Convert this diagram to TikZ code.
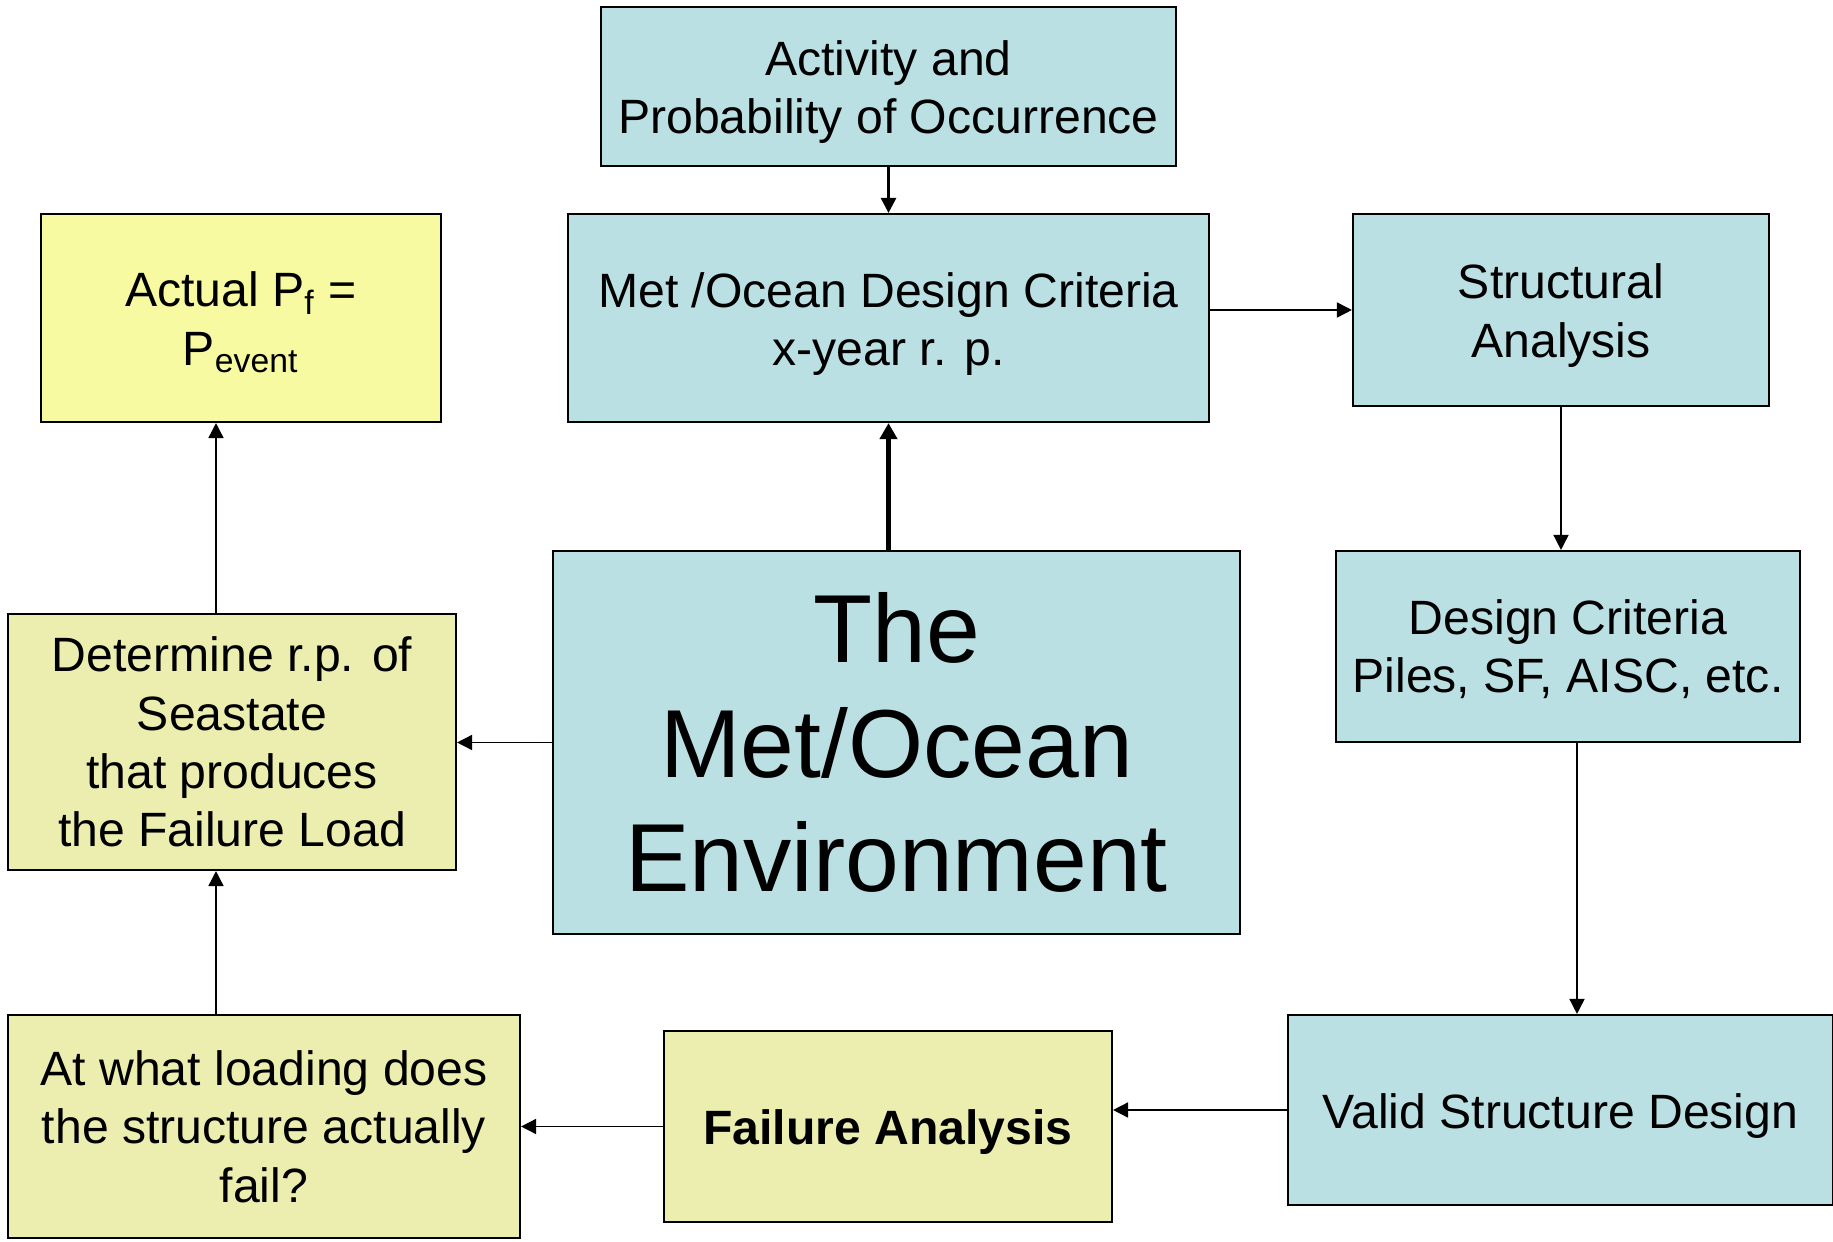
\documentclass[tikz,border=0pt]{standalone}
\usepackage{fontspec}
\setmainfont{Liberation Sans}
\usetikzlibrary{arrows.meta}
\definecolor{boxblue}{RGB}{187,224,227}
\definecolor{boxlemon}{RGB}{247,250,160}
\definecolor{boxsand}{RGB}{236,238,176}
\newcommand{\topstrut}[1][13.2pt]{\rule{0pt}{#1}}
\begin{document}
\begin{tikzpicture}[>={Triangle[length=1.5mm,width=1.5mm]},
	box/.style={draw,line width=0.6pt,align=center,inner sep=0pt,
		font=\fontsize{13.7}{16.6}\selectfont},
	blue/.style={box,fill=boxblue},
	lemon/.style={box,fill=boxlemon},
	sand/.style={box,fill=boxsand},
	link/.style={->,line width=0.45pt}]
	\useasboundingbox (0,0) rectangle (18.33,-12.42);
	\node[blue,minimum width=5.75cm,minimum height=1.59cm] (activity) at (8.885,-0.865) {\topstrut Activity and\\Probability of Occurrence};
	\node[blue,minimum width=6.41cm,minimum height=2.08cm] (criteria) at (8.885,-3.18) {\topstrut Met /Ocean Design Criteria\\x-year r. p.};
	\node[blue,minimum width=4.16cm,minimum height=1.92cm] (structural) at (15.61,-3.10) {\topstrut[13pt]Structural\\Analysis};
	\node[lemon,minimum width=4.00cm,minimum height=2.08cm] (actual) at (2.41,-3.18) {\topstrut[12.5pt]Actual P\textsubscript{f} =\\P\textsubscript{event}};
	\node[sand,minimum width=4.48cm,minimum height=2.56cm] (determine) at (2.32,-7.42) {Determine r.p. of\\Seastate\\that produces\\the Failure Load};
	\node[blue,minimum width=6.87cm,minimum height=3.83cm,font=\fontsize{27.5}{32.6}\selectfont] (environment) at (8.965,-7.425) {The\\Met/Ocean\\Environment};
	\node[blue,minimum width=4.64cm,minimum height=1.91cm] (design) at (15.68,-6.465) {\topstrut[11.5pt]Design Criteria\\Piles, SF, AISC, etc.};
	\node[blue,minimum width=5.45cm,minimum height=1.90cm] (valid) at (15.605,-11.10) {\topstrut Valid Structure Design};
	\node[sand,minimum width=4.48cm,minimum height=1.91cm,font=\fontsize{13.7}{16.6}\selectfont\bfseries] (failure) at (8.88,-11.265) {\topstrut Failure Analysis};
	\node[sand,minimum width=5.12cm,minimum height=2.23cm] (loading) at (2.64,-11.265) {At what loading does\\the structure actually\\fail?};

	\coordinate (dcout) at ([xshift=0.9mm]design.south);
	\coordinate (leftup) at ([xshift=-1.6mm]determine.north);
	\coordinate (leftdown) at ([xshift=-1.6mm]determine.south);
	\draw[link,line width=0.8pt] (activity) -- (criteria);
	\draw[->,line width=1.3pt,>={Triangle[length=1.6mm,width=1.7mm]}] (environment.north -| criteria.south) -- (criteria.south);
	\draw[link] (criteria.east |- structural.west) -- (structural.west);
	\draw[link] (structural.south) -- (structural.south |- design.north);
	\draw[link] (dcout) -- (dcout |- valid.north);
	\draw[link] (valid.west) -- (valid.west -| failure.east);
	\draw[link] (failure.west) -- (loading.east);
	\draw[link] (leftdown |- loading.north) -- (leftdown);
	\draw[link] (environment.west) -- (environment.west -| determine.east);
	\draw[link] (leftup) -- (leftup |- actual.south);
\end{tikzpicture}
\end{document}
